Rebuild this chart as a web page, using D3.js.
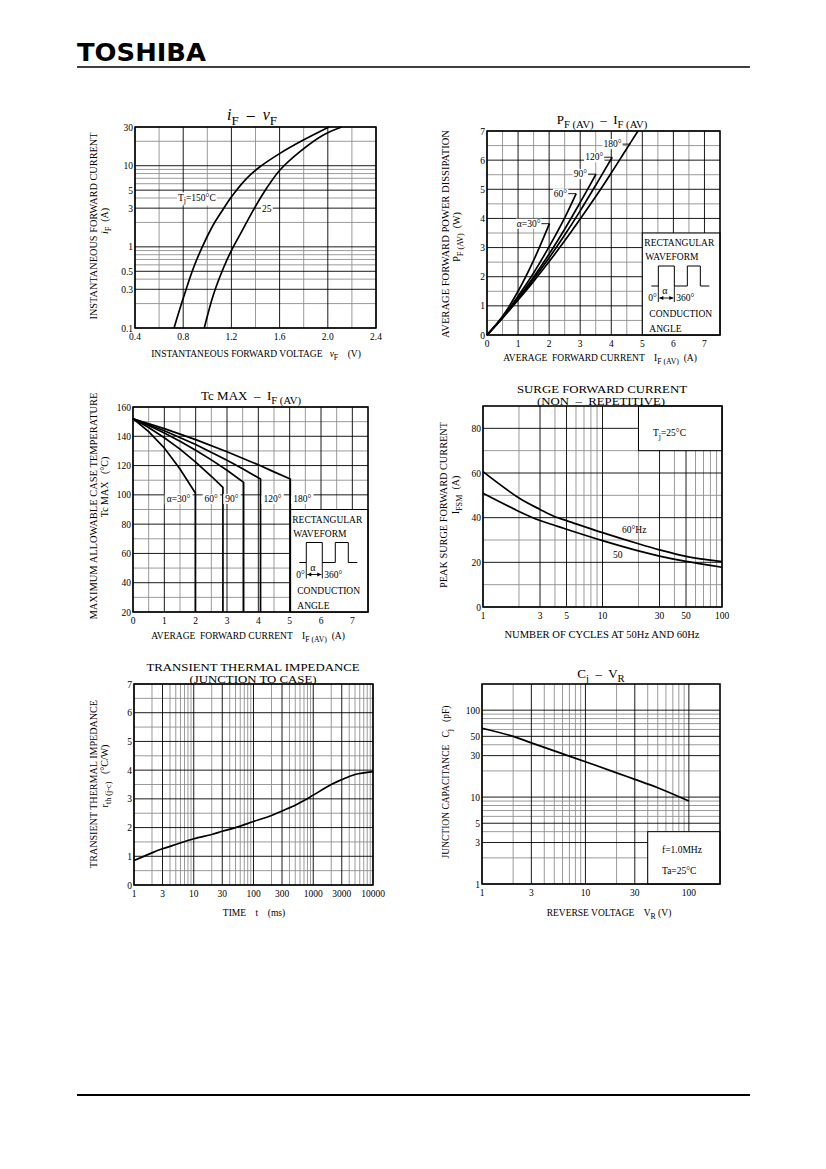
<!DOCTYPE html>
<html>
<head>
<meta charset="utf-8">
<script src="https://cdn.jsdelivr.net/npm/d3@7/dist/d3.min.js"></script>
<style>
  body { margin: 0; background: #fff; }
  text { font-family: "Liberation Serif", "DejaVu Serif", serif; fill: #000; white-space: pre; }
</style>
</head>
<body>
<svg id="page" width="826" height="1169"></svg>
<script>
'use strict';

// ---- iF - vF ----
const ifvfTicksX = [0.4, 0.8, 1.2, 1.6, 2.0, 2.4];
const ifvfTicksY = [0.1, 0.3, 0.5, 1, 3, 5, 10, 30];
const ifvfTj150 = [[0.724, 0.1], [0.80, 0.232], [0.884, 0.545], [0.953, 0.96], [1.049, 1.86], [1.118, 2.71],
  [1.201, 4.15], [1.327, 7.0], [1.437, 9.7], [1.603, 14.2], [1.797, 20.7], [2.01, 30]];
const ifvfTj25 = [[0.975, 0.1], [1.05, 0.255], [1.133, 0.545], [1.202, 0.914], [1.285, 1.54], [1.382, 2.84],
  [1.492, 5.27], [1.603, 8.85], [1.769, 14.9], [1.963, 23.9], [2.115, 30]];

// ---- PF(AV) - IF(AV) ----
const pfTicksX = [0, 1, 2, 3, 4, 5, 6, 7];
const pfTicksY = [0, 1, 2, 3, 4, 5, 6, 7];
const pfAngles = ['α=30°', '60°', '90°', '120°', '180°'];
const pfA30 = [[0, 0], [0.5, 0.64], [1, 1.5], [1.5, 2.56], [2.01, 3.82]];
const pfA60 = [[0, 0], [0.5, 0.6], [1, 1.33], [1.5, 2.13], [2, 3.03], [2.5, 4.02], [2.87, 4.85]];
const pfA90 = [[0, 0], [0.5, 0.6], [1, 1.26], [1.5, 1.99], [2, 2.78], [2.5, 3.63], [3, 4.55], [3.51, 5.52]];
const pfA120 = [[0, 0], [0.5, 0.59], [1, 1.23], [1.5, 1.92], [2, 2.65], [2.5, 3.43], [3, 4.26], [3.5, 5.14], [4.03, 6.1]];
const pfA180 = [[0, 0], [0.5, 0.58], [1, 1.2], [1.5, 1.84], [2, 2.52], [2.5, 3.23], [3, 3.98], [3.5, 4.75],
  [4, 5.56], [4.5, 6.4], [4.86, 7.0]];

// ---- Tc MAX - IF(AV) ----
const tcTicksX = [0, 1, 2, 3, 4, 5, 6, 7];
const tcTicksY = [20, 40, 60, 80, 100, 120, 140, 160];
const tcA30 = [[0, 152], [0.5, 143.2], [1, 132], [1.5, 117.7], [1.99, 101.2], [1.99, 20]];
const tcA60 = [[0, 152], [0.5, 146], [1, 139], [1.5, 131.2], [2, 122.4], [2.5, 112.7], [2.87, 105.1], [2.87, 20]];
const tcA90 = [[0, 152], [0.5, 147.4], [1, 142.2], [1.5, 136.6], [2, 130.5], [2.5, 123.9], [3, 116.8], [3.53, 108.5], [3.53, 20]];
const tcA120 = [[0, 152], [1, 143.8], [2, 134.4], [3, 123.7], [3.5, 117.9], [4.07, 110.8], [4.07, 20]];
const tcA180 = [[0, 152], [1, 145.2], [2, 137.7], [3, 129.4], [4, 120.5], [4.5, 115.7], [5.02, 110.8], [5.02, 20]];

// ---- surge forward current ----
const surgeTicksX = [1, 3, 5, 10, 30, 50, 100];
const surgeTicksY = [0, 20, 40, 60, 80];
const surgeCycles = [1, 2, 3, 4, 5, 10, 20, 30, 50, 100];
const surge60Hz = [60.6, 48.8, 43.7, 40.4, 38.7, 33.3, 28.3, 25.6, 22.7, 20.3];
const surge50Hz = [50.9, 42.8, 38.7, 36.5, 34.8, 29.7, 25.1, 22.8, 20.4, 17.8];

// ---- transient thermal impedance ----
const thermTicksX = [1, 3, 10, 30, 100, 300, 1000, 3000, 10000];
const thermTicksY = [0, 1, 2, 3, 4, 5, 6, 7];
const thermTime = [1, 2, 3, 5, 10, 20, 30, 50, 100, 200, 300, 500, 700, 1000, 2000, 3000, 5000, 10000];
const thermZth = [0.85, 1.12, 1.26, 1.41, 1.61, 1.76, 1.87, 2.0, 2.21, 2.42, 2.58, 2.78, 2.94, 3.13, 3.5, 3.67, 3.85, 3.95];

// ---- Cj - VR ----
const cjTicksX = [1, 3, 10, 30, 100];
const cjTicksY = [1, 3, 5, 10, 30, 50, 100];
const cjVoltage = [1, 2, 3, 5, 10, 20, 30, 50, 100];
const cjCap = [62, 50, 42, 34, 25.5, 19, 16, 12.8, 9.0];

const svg = d3.select('#page');

function txt(g, x, y, parts, size, anchor) {
  const t = g.append('text')
      .attr('x', x)
      .attr('y', y)
      .attr('text-anchor', anchor || 'start')
      .style('font-size', size + 'px');
  let low = false;
  [].concat(parts).forEach(p => {
    if (typeof p === 'string') p = { t: p };
    const s = t.append('tspan').text(p.t);
    if (p.sub && !low) { s.attr('dy', size * 0.3); low = true; }
    else if (!p.sub && low) { s.attr('dy', -size * 0.3); low = false; }
    if (p.sub) s.style('font-size', (size * 0.82) + 'px');
    if (p.it) s.style('font-style', 'italic');
  });
  return t;
}

// white patch behind a label so grid lines break around it
function patch(g, t, pad) {
  const bb = t.node().getBBox();
  g.insert('rect', () => t.node())
      .attr('x', bb.x - pad).attr('y', bb.y)
      .attr('width', bb.width + 2 * pad).attr('height', bb.height)
      .style('fill', '#fff');
  return t;
}

function vtxt(x, y, parts, size, len) {
  const g = svg.append('g').attr('transform', `translate(${x},${y}) rotate(-90)`);
  const t = txt(g, 0, 0, parts, size, 'middle');
  if (len) t.attr('textLength', len).attr('lengthAdjust', 'spacingAndGlyphs');
  return t;
}

function chart(o) {
  const g = svg.append('g').attr('transform', `translate(${o.left},${o.top})`);
  const x = o.x.range([0, o.w]);
  const y = o.y.range([o.h, 0]);
  const near = (arr, v) => arr.some(a => Math.abs(a - v) < 1e-7 * Math.max(1, Math.abs(a)));
  const xGrid = o.xLog ? x.ticks() : d3.range(x.domain()[0], x.domain()[1] + 1e-9, o.xStep);
  const yGrid = o.yLog ? y.ticks() : d3.range(y.domain()[0], y.domain()[1] + 1e-9, o.yStep);

  [false, true].forEach(major => {
    xGrid.filter(v => near(o.xTicks, v) === major).forEach(v => {
      g.append('line')
          .attr('x1', x(v)).attr('x2', x(v))
          .attr('y1', 0).attr('y2', o.h)
          .style('stroke', major ? '#000' : '#8f8f8f')
          .style('stroke-width', 0.9);
    });
    yGrid.filter(v => near(o.yTicks, v) === major).forEach(v => {
      g.append('line')
          .attr('x1', 0).attr('x2', o.w)
          .attr('y1', y(v)).attr('y2', y(v))
          .style('stroke', major ? '#000' : '#8f8f8f')
          .style('stroke-width', 0.9);
    });
  });

  (o.boxes || []).forEach(b => {
    g.append('rect')
        .attr('x', x(b[0]))
        .attr('y', y(b[3]))
        .attr('width', x(b[1]) - x(b[0]))
        .attr('height', y(b[2]) - y(b[3]))
        .style('fill', '#fff')
        .style('stroke', '#000')
        .style('stroke-width', 1);
  });

  g.append('rect')
      .attr('width', o.w)
      .attr('height', o.h)
      .style('fill', 'none')
      .style('stroke', '#000')
      .style('stroke-width', 1.5);

  o.xTicks.forEach(v => {
    g.append('text')
        .attr('x', x(v))
        .attr('y', o.h + 12)
        .attr('text-anchor', 'middle')
        .style('font-size', '9.5px')
        .text(o.xFmt ? o.xFmt(v) : v);
  });
  o.yTicks.forEach(v => {
    g.append('text')
        .attr('x', -2)
        .attr('y', y(v) + 3.5)
        .attr('text-anchor', 'end')
        .style('font-size', '9.5px')
        .text(v);
  });
  return { g, x, y };
}

function curve(c, data, interp) {
  const line = d3.line()
      .x(d => c.x(d[0]))
      .y(d => c.y(d[1]))
      .curve(interp || d3.curveCatmullRom.alpha(0.5));
  c.g.append('path')
      .datum(data)
      .attr('d', line)
      .style('fill', 'none')
      .style('stroke', '#000')
      .style('stroke-width', 1.7);
}

function leader(g, x1, x2, y) {
  g.append('line')
      .attr('x1', x1).attr('x2', x2)
      .attr('y1', y).attr('y2', y)
      .style('stroke', '#000')
      .style('stroke-width', 0.9);
}

function waveform(g, bx, by) {
  txt(g, bx + 2, by + 13, 'RECTANGULAR', 9.5);
  txt(g, bx + 3, by + 27, 'WAVEFORM', 9.5);
  g.append('path')
      .attr('d', `M${bx + 9},${by + 53}H${bx + 16}V${by + 33}H${bx + 32}V${by + 53}H${bx + 45}V${by + 33}H${bx + 58}V${by + 53}H${bx + 67}`)
      .style('fill', 'none')
      .style('stroke', '#000')
      .style('stroke-width', 1);
  [16, 32].forEach(d => {
    g.append('line')
        .attr('x1', bx + d).attr('x2', bx + d)
        .attr('y1', by + 53).attr('y2', by + 69)
        .style('stroke', '#000').style('stroke-width', 0.9);
  });
  g.append('line')
      .attr('x1', bx + 17).attr('x2', bx + 31)
      .attr('y1', by + 65).attr('y2', by + 65)
      .style('stroke', '#000').style('stroke-width', 0.9);
  g.append('path')
      .attr('d', `M${bx + 31},${by + 65}l-4,-2v4z M${bx + 17},${by + 65}l4,-2v4z`)
      .style('fill', '#000');
  txt(g, bx + 6, by + 68, '0°', 9.5);
  txt(g, bx + 20, by + 61, 'α', 10);
  txt(g, bx + 34, by + 68, '360°', 9.5);
  txt(g, bx + 7, by + 84, 'CONDUCTION', 9.5);
  txt(g, bx + 7, by + 99, 'ANGLE', 9.5);
}

// header
svg.append('text')
    .attr('x', 77)
    .attr('y', 61)
    .attr('textLength', 129)
    .attr('lengthAdjust', 'spacingAndGlyphs')
    .style('font-family', '"DejaVu Sans", sans-serif')
    .style('font-weight', 'bold')
    .style('font-size', '25px')
    .text('TOSHIBA');
svg.append('line').attr('x1', 77).attr('x2', 750).attr('y1', 67).attr('y2', 67)
    .style('stroke', '#000').style('stroke-width', 1.3);
svg.append('line').attr('x1', 77).attr('x2', 750).attr('y1', 1095).attr('y2', 1095)
    .style('stroke', '#000').style('stroke-width', 1.8);

// ---- chart 1: iF - vF ----
const c1 = chart({
  left: 135, top: 127, w: 241, h: 201,
  x: d3.scaleLinear().domain([0.4, 2.4]), xStep: 0.2, xTicks: ifvfTicksX, xFmt: d3.format('.1f'),
  y: d3.scaleLog().domain([0.1, 30]), yLog: true, yTicks: ifvfTicksY
});
curve(c1, ifvfTj150);
curve(c1, ifvfTj25);
patch(c1.g, txt(c1.g, 43, 73.5, ['T', { t: 'j', sub: true }, '=150°C'], 9.5), 1);
patch(c1.g, txt(c1.g, 127, 85, '25', 9.5), 1);
txt(svg, 252, 120, [{ t: 'i', it: true }, { t: 'F', sub: true }, '  –  ', { t: 'v', it: true }, { t: 'F', sub: true }], 16, 'middle');
vtxt(97, 226, 'INSTANTANEOUS FORWARD CURRENT', 9.5, 187);
vtxt(108, 221, [{ t: 'i', it: true }, { t: 'F', sub: true }, '  (A)'], 10);
txt(svg, 256, 357, ['INSTANTANEOUS FORWARD VOLTAGE   ', { t: 'v', it: true }, { t: 'F', sub: true }, '    (V)'], 9.5, 'middle');

// ---- chart 2: PF(AV) - IF(AV) ----
const c2 = chart({
  left: 487, top: 131, w: 233, h: 204,
  x: d3.scaleLinear().domain([0, 7.5]), xStep: 0.5, xTicks: pfTicksX,
  y: d3.scaleLinear().domain([0, 7]), yStep: 0.5, yTicks: pfTicksY,
  boxes: [[5, 7.5, 0, 3.5]]
});
const pfSeries = [pfA30, pfA60, pfA90, pfA120, pfA180];
pfSeries.forEach(s => curve(c2, s));
pfSeries.forEach((s, i) => {
  let px = c2.x(s[s.length - 1][0]);
  let py = c2.y(s[s.length - 1][1]);
  if (i === 4) { px = c2.x(4.62); py = c2.y(6.55); }
  patch(c2.g, txt(c2.g, px - 9, py + 3, pfAngles[i], 9.5, 'end'), 1);
  leader(c2.g, px - 8, px, py);
});
waveform(c2.g, c2.x(5), c2.y(3.5));
txt(svg, 602, 124, ['P', { t: 'F (AV)', sub: true }, '  –  I', { t: 'F (AV)', sub: true }], 13, 'middle');
vtxt(449, 234, 'AVERAGE FORWARD POWER DISSIPATION', 9.5, 208);
vtxt(460, 237, ['P', { t: 'F (AV)', sub: true }, '  (W)'], 10);
txt(svg, 600, 361, ['AVERAGE  FORWARD CURRENT    I', { t: 'F (AV)', sub: true }, '  (A)'], 9.5, 'middle');

// ---- chart 3: Tc MAX - IF(AV) ----
const c3 = chart({
  left: 133, top: 407, w: 235, h: 205,
  x: d3.scaleLinear().domain([0, 7.5]), xStep: 0.5, xTicks: tcTicksX,
  y: d3.scaleLinear().domain([20, 160]), yStep: 10, yTicks: tcTicksY,
  boxes: [[5.02, 7.5, 20, 90]]
});
const tcSeries = [tcA30, tcA60, tcA90, tcA120, tcA180];
tcSeries.forEach(s => curve(c3, s, d3.curveLinear));
tcSeries.forEach((s, i) => {
  const vx = c3.x(s[s.length - 1][0]);
  const t = i < 3
      ? txt(c3.g, vx - 5, 95, pfAngles[i], 9.5, 'end')
      : txt(c3.g, vx + 3, 95, pfAngles[i], 9.5, 'start');
  patch(c3.g, t, 2);
});
waveform(c3.g, c3.x(5.02), c3.y(90));
txt(svg, 251, 400, ['Tc MAX  –  I', { t: 'F (AV)', sub: true }], 13, 'middle');
vtxt(97, 506, 'MAXIMUM ALLOWABLE CASE TEMPERATURE', 9.5, 227);
vtxt(108, 487, 'Tc MAX   (°C)', 10);
txt(svg, 248, 639, ['AVERAGE  FORWARD CURRENT    I', { t: 'F (AV)', sub: true }, '  (A)'], 9.5, 'middle');

// ---- chart 4: surge forward current ----
const c4 = chart({
  left: 483, top: 406, w: 239, h: 201,
  x: d3.scaleLog().domain([1, 100]), xLog: true, xTicks: surgeTicksX,
  y: d3.scaleLinear().domain([0, 90]), yStep: 10, yTicks: surgeTicksY,
  boxes: [[20, 100, 70, 90]]
});
curve(c4, surgeCycles.map((n, i) => [n, surge60Hz[i]]));
curve(c4, surgeCycles.map((n, i) => [n, surge50Hz[i]]));
txt(c4.g, 139, 127, '60°Hz', 9.5);
txt(c4.g, 130, 152, '50', 9.5);
txt(c4.g, 170, 30, ['T', { t: 'j', sub: true }, '=25°C'], 9.5);
txt(svg, 602, 393, 'SURGE FORWARD CURRENT', 10.5, 'middle').attr('textLength', 170).attr('lengthAdjust', 'spacingAndGlyphs');
txt(svg, 601, 405, '(NON  –  REPETITIVE)', 10.5, 'middle').attr('textLength', 128).attr('lengthAdjust', 'spacingAndGlyphs');
vtxt(447, 505, 'PEAK SURGE FORWARD CURRENT', 9.5, 166);
vtxt(459, 495, ['I', { t: 'FSM', sub: true }, '  (A)'], 10);
txt(svg, 602, 638, 'NUMBER OF CYCLES AT 50Hz AND 60Hz', 9.5, 'middle').attr('textLength', 195).attr('lengthAdjust', 'spacingAndGlyphs');

// ---- chart 5: transient thermal impedance ----
const c5 = chart({
  left: 134, top: 684, w: 239, h: 201,
  x: d3.scaleLog().domain([1, 10000]), xLog: true, xTicks: thermTicksX,
  y: d3.scaleLinear().domain([0, 7]), yStep: 0.5, yTicks: thermTicksY
});
curve(c5, thermTime.map((t, i) => [t, thermZth[i]]));
txt(svg, 253, 671, 'TRANSIENT THERMAL IMPEDANCE', 10.5, 'middle').attr('textLength', 213).attr('lengthAdjust', 'spacingAndGlyphs');
txt(svg, 253, 683, '(JUNCTION TO CASE)', 10.5, 'middle').attr('textLength', 127).attr('lengthAdjust', 'spacingAndGlyphs');
vtxt(97, 784, 'TRANSIENT THERMAL IMPEDANCE', 9.5, 168);
vtxt(108, 776, ['r', { t: 'th (j-c)', sub: true }, '   (°C/W)'], 10);
txt(svg, 254, 916, 'TIME    t    (ms)', 9.5, 'middle');

// ---- chart 6: Cj - VR ----
const c6 = chart({
  left: 482, top: 684, w: 238, h: 200,
  x: d3.scaleLog().domain([1, 200]), xLog: true, xTicks: cjTicksX,
  y: d3.scaleLog().domain([1, 200]), yLog: true, yTicks: cjTicksY,
  boxes: [[40, 200, 1, 4]]
});
curve(c6, cjVoltage.map((v, i) => [v, cjCap[i]]));
txt(c6.g, 180, 169, 'f=1.0MHz', 9.5);
txt(c6.g, 180, 190, 'Ta=25°C', 9.5);
txt(svg, 601, 678, ['C', { t: 'j', sub: true }, '  –  V', { t: 'R', sub: true }], 13, 'middle');
vtxt(449, 782, ['JUNCTION CAPACITANCE   C', { t: 'j', sub: true }, '   (pF)'], 9.5);
txt(svg, 609, 916, ['REVERSE VOLTAGE    V', { t: 'R', sub: true }, ' (V)'], 9.5, 'middle');
</script>
</body>
</html>
